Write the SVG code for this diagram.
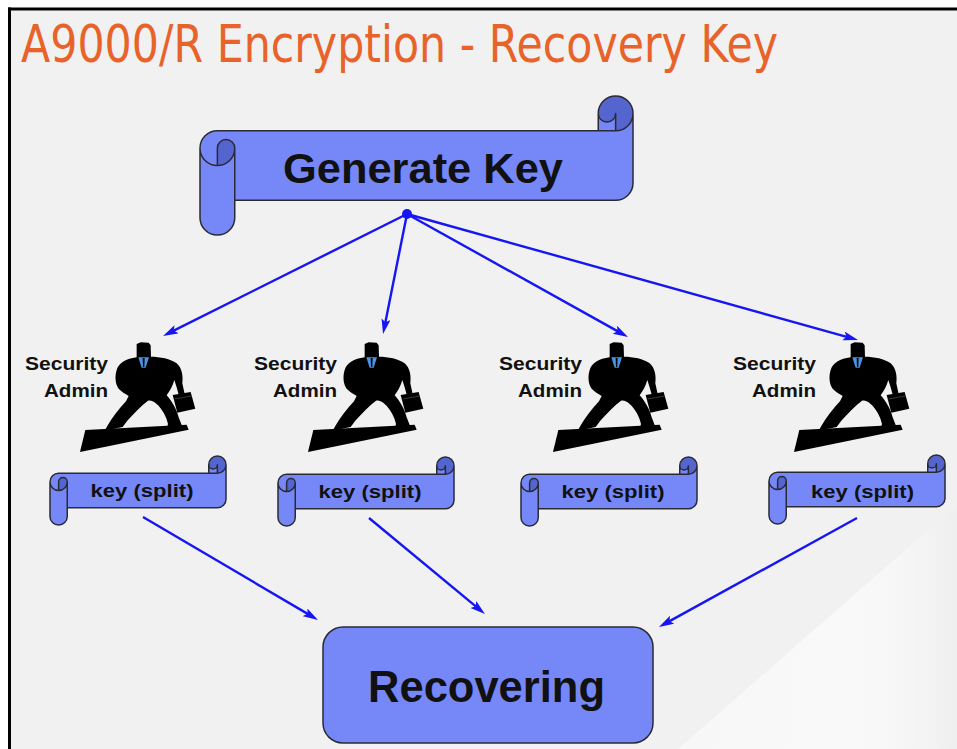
<svg xmlns="http://www.w3.org/2000/svg" xmlns:xlink="http://www.w3.org/1999/xlink" width="957" height="749" viewBox="0 0 957 749">
  <style>
    .scroll-fill { fill: #7688f8; }
    .scroll-dark { fill: #5565cf; }
    .scroll-line { fill: none; stroke: #2a2a35; stroke-width: 1.5; stroke-linejoin: round; }
    .label { font-family: "Liberation Sans", Arial, sans-serif; font-weight: bold; fill: #111; }
    .conn { stroke: #1616f2; stroke-width: 2.4; fill: none; marker-end: url(#arrow); }
    .title { font-family: "DejaVu Sans", Tahoma, sans-serif; fill: #e8632a; }
  </style>
  <defs>
    <marker id="arrow" markerUnits="userSpaceOnUse" markerWidth="16" markerHeight="10" refX="7" refY="4.5" orient="auto">
      <path d="M0,0 L15,4.5 L0,9 L3,4.5 Z" fill="#1616f2"/>
    </marker>
    <linearGradient id="curl" x1="0" y1="0" x2="1" y2="0">
      <stop offset="0" stop-color="#f7f7f7"/>
      <stop offset="0.6" stop-color="#f9f9f9"/>
      <stop offset="0.78" stop-color="#f7f7f7"/>
      <stop offset="1" stop-color="#efefef"/>
    </linearGradient>
    <!-- businessman silhouette on a slanted board, drawn at 3x -->
    <g id="man">
      <polygon points="196,300 500,284 506,299 180,366" fill="#000"/>
      <path fill="#000" d="M350,42 L362,37 L386,38 L392,46 L393,80 C420,80 452,86 470,100 C486,114 490,138 487,160 L494,192 L477,197 L470,172 L463,150 C458,168 450,182 440,196 C456,214 470,238 476,262 L486,287 L494,293 L440,297 L444,282 C440,262 428,238 410,222 C402,214 392,210 384,212 C365,226 342,250 322,272 L308,291 L254,302 L262,288 C276,264 296,238 318,214 L326,198 C318,192 305,186 296,176 C286,162 284,140 290,120 C296,100 318,86 350,82 Z"/>
      <polygon points="458,195 512,186 526,236 472,248" fill="#000"/>
      <path d="M464,207 L515,198" stroke="#555" stroke-width="2" fill="none"/>
      <polygon points="355,82 387,82 377,113 365,113" fill="#4a93e6"/>
      <polygon points="368,84 374,84 373,111 369,111" fill="#0a0a0a"/>
    </g>
    <!-- small scroll banner, 176 x 69 -->
    <g id="keyScroll">
      <path class="scroll-fill" d="M176,8.625 A8.625,8.625 0 0 1 167.375,17.25 L167.375,8.625 A4.3125,4.3125 0 0 1 158.75,8.625 L158.75,17.25 L8.625,17.25 A8.625,8.625 0 0 0 0,25.875 L0,60.375 A8.625,8.625 0 0 0 17.25,60.375 L17.25,51.75 L167.375,51.75 A8.625,8.625 0 0 0 176,43.125 Z"/>
      <path class="scroll-dark" d="M8.625,34.5 A8.625,8.625 0 0 0 17.25,25.875 A4.3125,4.3125 0 0 0 8.625,25.875 Z M167.375,17.25 A8.625,8.625 0 1 0 158.75,8.625 A4.3125,4.3125 0 0 0 167.375,8.625 Z"/>
      <path class="scroll-line" stroke-width="1.3" d="M0,25.875 A8.625,8.625 0 0 1 8.625,17.25 L158.75,17.25 L158.75,8.625 A8.625,8.625 0 0 1 176,8.625 L176,43.125 A8.625,8.625 0 0 1 167.375,51.75 L17.25,51.75 L17.25,60.375 A8.625,8.625 0 0 1 0,60.375 Z M158.75,17.25 L167.375,17.25 A8.625,8.625 0 0 0 176,8.625 M167.375,17.25 L167.375,8.625 A4.3125,4.3125 0 0 1 158.75,8.625 M8.625,34.5 L8.625,25.875 A4.3125,4.3125 0 0 1 17.25,25.875 A8.625,8.625 0 0 1 0,25.875 M17.25,25.875 L17.25,51.75"/>
    </g>
  </defs>

  <!-- slide background and frame -->
  <rect x="0" y="0" width="957" height="749" fill="#ffffff"/>
  <rect x="11" y="10.5" width="946" height="738.5" fill="#f1f1f1"/>
  <polygon points="957,505 957,749 678,749" fill="url(#curl)"/>
  <rect x="8" y="7.5" width="949" height="3" fill="#000"/>
  <rect x="8" y="7.5" width="3" height="741.5" fill="#000"/>

  <text class="title" x="21" y="62" font-size="51" textLength="757" lengthAdjust="spacingAndGlyphs">A9000/R Encryption - Recovery Key</text>

  <!-- connectors -->
  <g id="connectors">
    <circle cx="407" cy="214" r="5" fill="#1616f2"/>
    <line class="conn" x1="407" y1="214" x2="170.2" y2="332.4"/>
    <line class="conn" x1="407" y1="214" x2="384.6" y2="326.2"/>
    <line class="conn" x1="407" y1="214" x2="621.0" y2="333.1"/>
    <line class="conn" x1="407" y1="214" x2="850.3" y2="337.8"/>
    <line class="conn" x1="143" y1="517" x2="311.1" y2="615.9"/>
    <line class="conn" x1="369" y1="518" x2="478.8" y2="608.9"/>
    <line class="conn" x1="857" y1="518" x2="666.0" y2="623.1"/>
  </g>

  <!-- Generate Key banner -->
  <g id="generate-key" transform="translate(200,96)">
    <path class="scroll-fill" d="M433,17.375 A17.375,17.375 0 0 1 415.625,34.75 L415.625,17.375 A8.6875,8.6875 0 0 1 398.25,17.375 L398.25,34.75 L17.375,34.75 A17.375,17.375 0 0 0 0,52.125 L0,121.625 A17.375,17.375 0 0 0 34.75,121.625 L34.75,104.25 L415.625,104.25 A17.375,17.375 0 0 0 433,86.875 Z"/>
    <path class="scroll-dark" d="M17.375,69.5 A17.375,17.375 0 0 0 34.75,52.125 A8.6875,8.6875 0 0 0 17.375,52.125 Z M415.625,34.75 A17.375,17.375 0 1 0 398.25,17.375 A8.6875,8.6875 0 0 0 415.625,17.375 Z"/>
    <path class="scroll-line" d="M0,52.125 A17.375,17.375 0 0 1 17.375,34.75 L398.25,34.75 L398.25,17.375 A17.375,17.375 0 0 1 433,17.375 L433,86.875 A17.375,17.375 0 0 1 415.625,104.25 L34.75,104.25 L34.75,121.625 A17.375,17.375 0 0 1 0,121.625 Z M398.25,34.75 L415.625,34.75 A17.375,17.375 0 0 0 433,17.375 M415.625,34.75 L415.625,17.375 A8.6875,8.6875 0 0 1 398.25,17.375 M17.375,69.5 L17.375,52.125 A8.6875,8.6875 0 0 1 34.75,52.125 A17.375,17.375 0 0 1 0,52.125 M34.75,52.125 L34.75,104.25"/>
    <text class="label" x="83" y="87" font-size="43" textLength="280" lengthAdjust="spacingAndGlyphs">Generate Key</text>
  </g>

  <!-- security admins -->
  <g id="admin-1">
    <use xlink:href="#man" href="#man" transform="translate(20,330) scale(0.3333)"/>
    <text class="label" x="25" y="370" font-size="19" textLength="83" lengthAdjust="spacingAndGlyphs">Security</text>
    <text class="label" x="44" y="397" font-size="19" textLength="64" lengthAdjust="spacingAndGlyphs">Admin</text>
  </g>
  <g id="admin-2">
    <use xlink:href="#man" href="#man" transform="translate(248,330) scale(0.3333)"/>
    <text class="label" x="254" y="370" font-size="19" textLength="83" lengthAdjust="spacingAndGlyphs">Security</text>
    <text class="label" x="273" y="397" font-size="19" textLength="64" lengthAdjust="spacingAndGlyphs">Admin</text>
  </g>
  <g id="admin-3">
    <use xlink:href="#man" href="#man" transform="translate(493,330) scale(0.3333)"/>
    <text class="label" x="499" y="370" font-size="19" textLength="83" lengthAdjust="spacingAndGlyphs">Security</text>
    <text class="label" x="518" y="397" font-size="19" textLength="64" lengthAdjust="spacingAndGlyphs">Admin</text>
  </g>
  <g id="admin-4">
    <use xlink:href="#man" href="#man" transform="translate(734,330) scale(0.3333)"/>
    <text class="label" x="733" y="370" font-size="19" textLength="83" lengthAdjust="spacingAndGlyphs">Security</text>
    <text class="label" x="752" y="397" font-size="19" textLength="64" lengthAdjust="spacingAndGlyphs">Admin</text>
  </g>

  <!-- key split banners -->
  <g id="key-1" transform="translate(50,456)">
    <use xlink:href="#keyScroll" href="#keyScroll"/>
    <text class="label" x="40.5" y="41" font-size="19" textLength="103" lengthAdjust="spacingAndGlyphs">key (split)</text>
  </g>
  <g id="key-2" transform="translate(278,457)">
    <use xlink:href="#keyScroll" href="#keyScroll"/>
    <text class="label" x="40.5" y="41" font-size="19" textLength="103" lengthAdjust="spacingAndGlyphs">key (split)</text>
  </g>
  <g id="key-3" transform="translate(521,457)">
    <use xlink:href="#keyScroll" href="#keyScroll"/>
    <text class="label" x="40.5" y="41" font-size="19" textLength="103" lengthAdjust="spacingAndGlyphs">key (split)</text>
  </g>
  <g id="key-4" transform="translate(769,455)">
    <use xlink:href="#keyScroll" href="#keyScroll"/>
    <text class="label" x="42" y="43" font-size="19" textLength="103" lengthAdjust="spacingAndGlyphs">key (split)</text>
  </g>

  <!-- Recovering box -->
  <g id="recovering">
    <rect x="323" y="627" width="330" height="116" rx="20" ry="20" fill="#7688f8" stroke="#2a2a35" stroke-width="1.5"/>
    <text class="label" x="368" y="702" font-size="44" textLength="237" lengthAdjust="spacingAndGlyphs">Recovering</text>
  </g>
</svg>
